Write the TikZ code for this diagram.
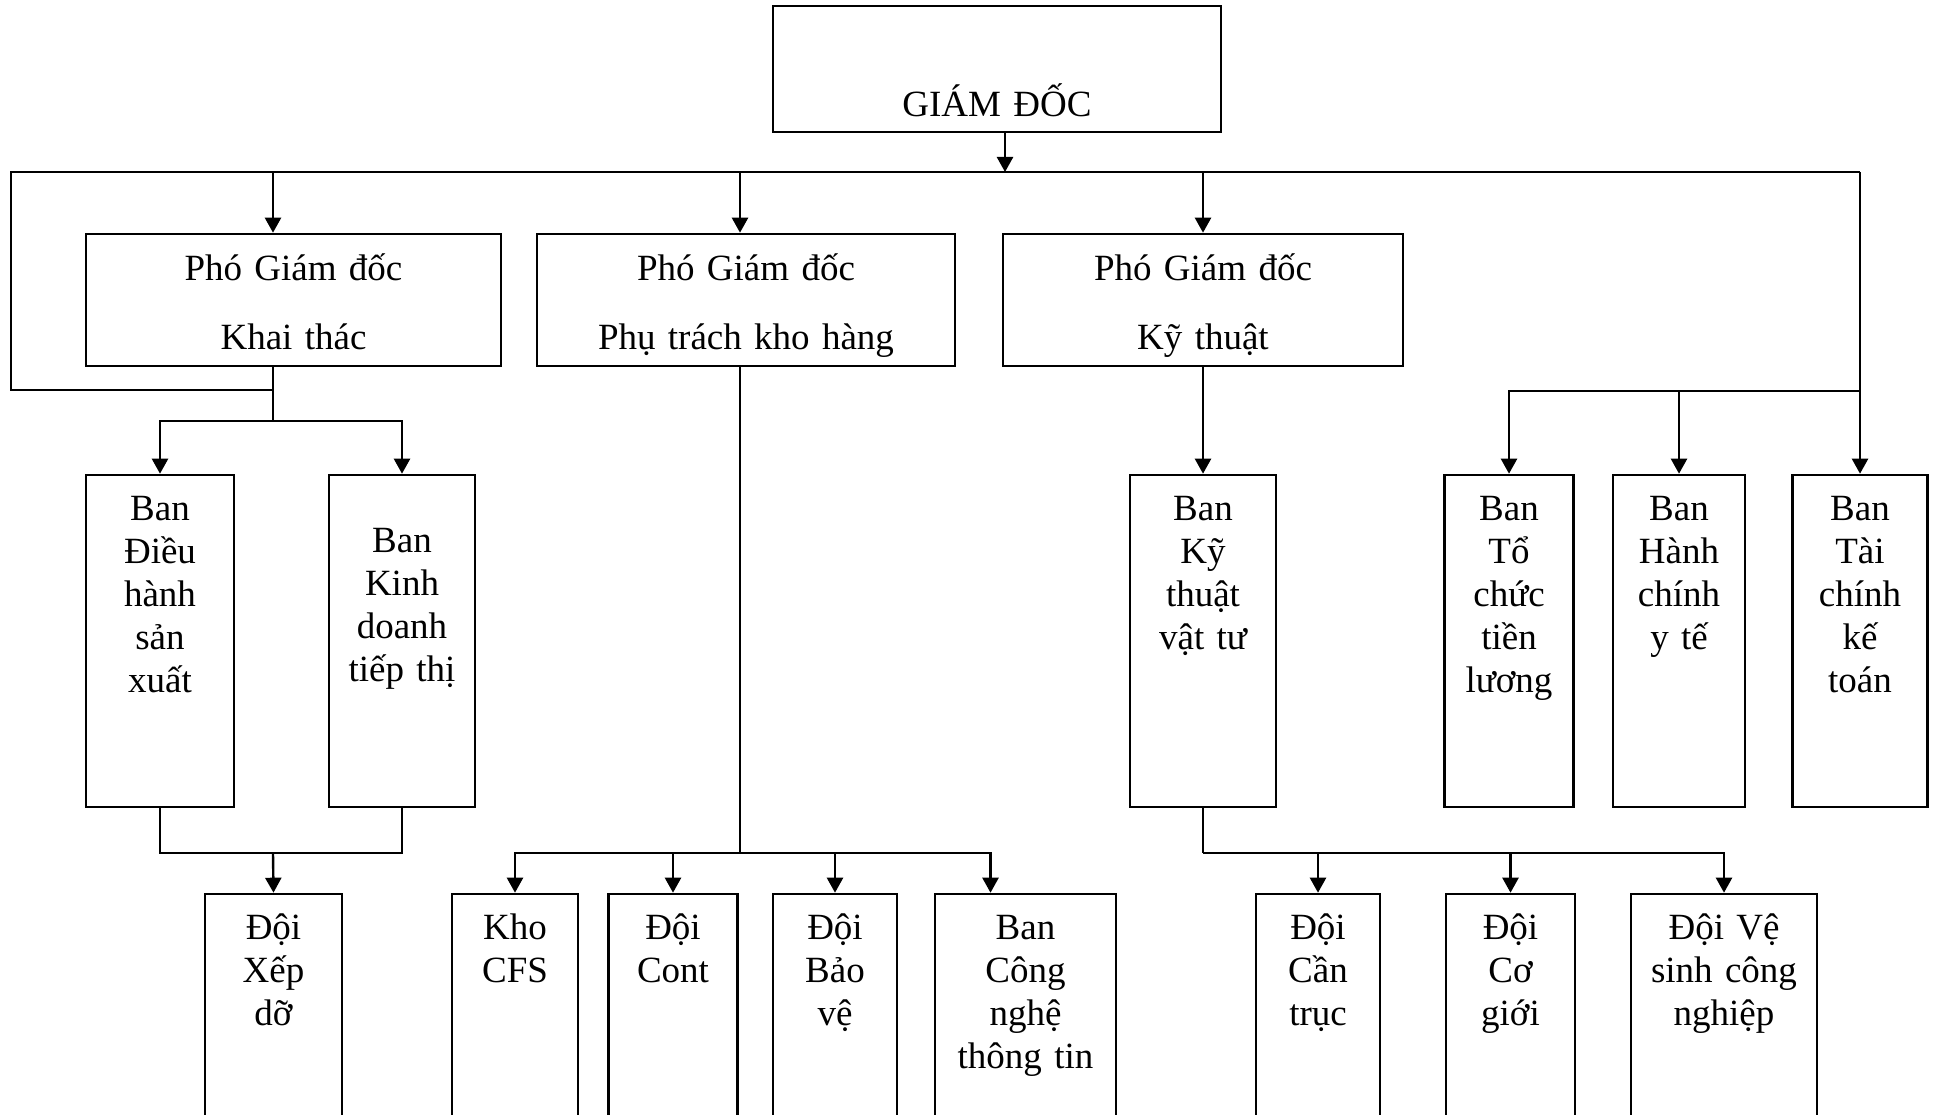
\documentclass[tikz,border=0pt]{standalone}
\usepackage{fontspec}
\setmainfont{Liberation Serif}
\usetikzlibrary{arrows.meta}
\tikzset{
    box/.style   ={draw, line width=2.6pt, inner sep=0pt, align=center},
    chief/.style ={box, text width=448pt, text height=111pt, text depth=15pt},
    vp/.style    ={box, text height=46pt, text depth=86pt},
    ban/.style   ={box, text height=45pt, text depth=287pt},
    team/.style  ={box, text height=45pt, text depth=215pt},
    link/.style  ={line width=2.4pt},
    arr/.style   ={link, -{Triangle[length=15pt, width=16pt]}},
}

\begin{document}
\begin{tikzpicture}[x=1pt, y=-1pt, font=\fontsize{37}{43}\selectfont]
\useasboundingbox (0,0) rectangle (1934,1115);
\clip (0,0) rectangle (1934,1115);

% ===================== Giam doc =====================
\node[chief] (gd) at (997,69) {GIÁM ĐỐC};

% ===================== Pho giam doc =====================
\node[vp, text width=415pt] (pkt) at (293.5,300) {Phó Giám đốc\\[26pt]Khai thác};
\node[vp, text width=418pt] (pkh) at (746,300)   {Phó Giám đốc\\[26pt]Phụ trách kho hàng};
\node[vp, text width=400pt] (pky) at (1203,300)  {Phó Giám đốc\\[26pt]Kỹ thuật};

% ===================== Cac ban =====================
\node[ban, text width=148pt] (bdh) at (160,641) {Ban\\Điều\\hành\\sản\\xuất};
\node[ban, text width=146pt, text height=77pt, text depth=255pt] (bkd) at (402,641)
     {Ban\\Kinh\\doanh\\tiếp thị};
\node[ban, text width=146pt] (bkt) at (1203,641) {Ban\\Kỹ\\thuật\\vật tư};
\node[ban, text width=129pt] (btl) at (1509,641) {Ban\\Tổ\\chức\\tiền\\lương};
\node[ban, text width=132pt] (bhc) at (1679,641) {Ban\\Hành\\chính\\y tế};
\node[ban, text width=135pt] (btc) at (1860,641) {Ban\\Tài\\chính\\kế\\toán};

% ===================== Cac doi (ra khoi trang) =====================
\node[team, text width=137pt] (dxd)  at (273.5,1024) {Đội\\Xếp\\dỡ};
\node[team, text width=126pt] (kcfs) at (515,1024)   {Kho\\CFS};
\node[team, text width=129pt] (dco)  at (673,1024)   {Đội\\Cont};
\node[team, text width=124pt] (dbv)  at (835,1024)   {Đội\\Bảo\\vệ};
\node[team, text width=181pt] (cntt) at (1025.5,1024) {Ban\\Công\\nghệ\\thông tin};
\node[team, text width=124pt] (dct)  at (1318,1024)  {Đội\\Cần\\trục};
\node[team, text width=129pt] (dcg)  at (1510.5,1024) {Đội\\Cơ\\giới};
\node[team, text width=186pt] (dvs)  at (1724,1024)  {Đội Vệ\\sinh công\\nghiệp};

% ===================== Diem noi =====================
\coordinate (busL) at (11,172);
\coordinate (busR) at (1860,172);
\coordinate (kt)   at (273,390);
\coordinate (ktj)  at (273,421);
\coordinate (xd)   at (273,853);
\coordinate (kh)   at (740,853);
\coordinate (kyj)  at (1203,853);
\coordinate (rj)   at (1860,391);

% ===================== Thanh ngang chinh =====================
\draw[arr] ([xshift=8pt]gd.south) -- ([xshift=8pt]gd.south |- busL);
\draw[link] (kt) -| (busL) -- (busR);
\draw[arr] (busL -| kt) -- (pkt.north -| kt);
\draw[arr] (busL -| kh) -- (pkh.north -| kh);
\draw[arr] (busL -| pky.north) -- (pky.north);
\draw[arr] (busR) -- (btc.north);
\draw[arr] (rj) -| (btl.north);
\draw[arr] (rj) -| (bhc.north);

% ===================== Khai thac =====================
\draw[link] (pkt.south -| kt) -- (ktj);
\draw[arr] (ktj) -| (bdh.north);
\draw[arr] (ktj) -| (bkd.north);
\draw[link] (bdh.south) |- (xd) -| (bkd.south);
\draw[arr] (xd) -- (dxd.north);

% ===================== Kho hang =====================
\draw[link] (pkh.south -| kh) -- (kh);
\draw[arr] (kh) -| (kcfs.north);
\draw[arr] (kh) -| (dco.north);
\draw[arr] (kh) -| (dbv.north);
\draw[arr] (kh) -| ([xshift=-35pt]cntt.north);

% ===================== Ky thuat =====================
\draw[arr] (pky.south) -- (bkt.north);
\draw[link] (bkt.south) -- (kyj);
\draw[arr] (kyj) -| (dct.north);
\draw[arr] (kyj) -| (dcg.north);
\draw[arr] (kyj) -| (dvs.north);

\end{tikzpicture}
\end{document}
